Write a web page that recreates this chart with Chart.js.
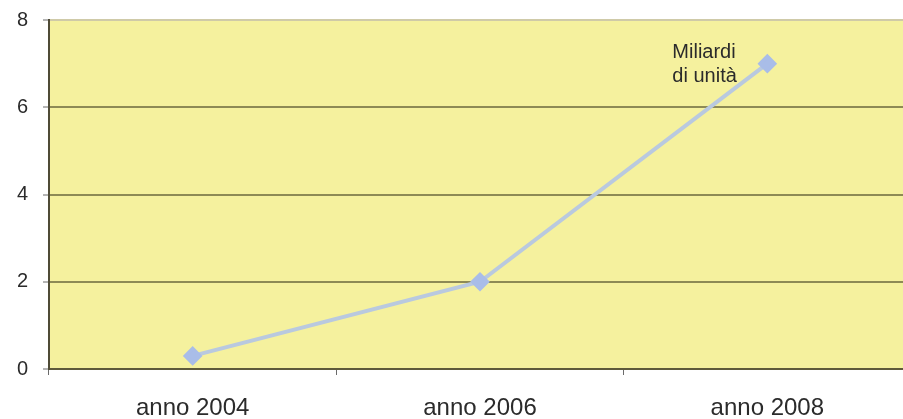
<!DOCTYPE html>
<html>
<head>
<meta charset="utf-8">
<script src="https://cdn.jsdelivr.net/npm/chart.js@4/dist/chart.umd.min.js"></script>
<style>
  html, body { margin: 0; padding: 0; background: #ffffff; overflow: hidden; }
  #wrap { width: 903px; height: 419px; overflow: hidden; }
  #c { display: block; }
</style>
</head>
<body>
<div id="wrap"><canvas id="c" width="911" height="419"></canvas></div>
<script>
const categories = ['anno 2004', 'anno 2006', 'anno 2008'];
const units = [0.3, 2.0, 7.0];
const yTicks = [0, 2, 4, 6, 8];
const noteLines = ['Miliardi', 'di unità'];

const FONT = '"Liberation Sans", Arial, sans-serif';

// yellow plot background
const plotBackground = {
  id: 'plotBackground',
  beforeDraw(chart) {
    const { ctx, chartArea: a } = chart;
    ctx.save();
    ctx.fillStyle = '#f5f19e';
    ctx.fillRect(a.left, a.top, a.right - a.left, a.bottom - a.top);
    ctx.restore();
  }
};

// note written next to the last point
const seriesNote = {
  id: 'seriesNote',
  afterDatasetsDraw(chart) {
    const { ctx, scales } = chart;
    const i = units.length - 1;
    const x = scales.x.getPixelForValue(i);
    const y = scales.y.getPixelForValue(units[i]);
    ctx.save();
    ctx.font = '20px ' + FONT;
    ctx.fillStyle = '#2b2b2b';
    ctx.textAlign = 'left';
    ctx.textBaseline = 'alphabetic';
    ctx.fillText(noteLines[0], x - 95, y - 6);
    ctx.fillText(noteLines[1], x - 95, y + 18);
    ctx.restore();
  }
};

new Chart(document.getElementById('c'), {
  type: 'line',
  data: {
    labels: categories,
    datasets: [{
      data: units,
      borderColor: '#b9c9df',
      borderWidth: 4,
      pointStyle: 'rectRot',
      pointRadius: 7,
      pointBackgroundColor: '#a9bde8',
      pointBorderColor: '#a9bde8',
      tension: 0
    }]
  },
  options: {
    responsive: false,
    animation: false,
    layout: { autoPadding: false, padding: { top: 20, right: 0, left: 0, bottom: 0 } },
    plugins: { legend: { display: false }, tooltip: { enabled: false } },
    scales: {
      x: {
        offset: true,
        grid: {
          display: true,
          offset: true,
          drawOnChartArea: false,
          drawTicks: true,
          tickLength: 6,
          color: '#6b6b6b'
        },
        border: { display: true, color: '#5e5a3a', width: 2 },
        ticks: {
          color: '#2b2b2b',
          font: { family: FONT, size: 24 },
          padding: 19,
          maxRotation: 0
        },
        afterFit(s) { s.height = 50; s.paddingLeft = 0; s.paddingRight = 0; }
      },
      y: {
        min: 0,
        max: 8,
        afterBuildTicks(s) { s.ticks = yTicks.map(v => ({ value: v })); },
        grid: {
          color: ctx => (ctx.tick && ctx.tick.value === 8) ? '#cfcaa8' : '#8d8a55',
          lineWidth: 2,
          drawTicks: true,
          tickLength: 6,
          tickColor: '#6b6b6b',
          tickWidth: 1
        },
        border: { display: true, color: '#4f4b36', width: 2 },
        ticks: {
          color: '#2b2b2b',
          font: { family: FONT, size: 20 },
          padding: 15
        },
        afterFit(s) { s.width = 49; s.paddingTop = 0; s.paddingBottom = 0; }
      }
    }
  },
  plugins: [plotBackground, seriesNote]
});
</script>
</body>
</html>
